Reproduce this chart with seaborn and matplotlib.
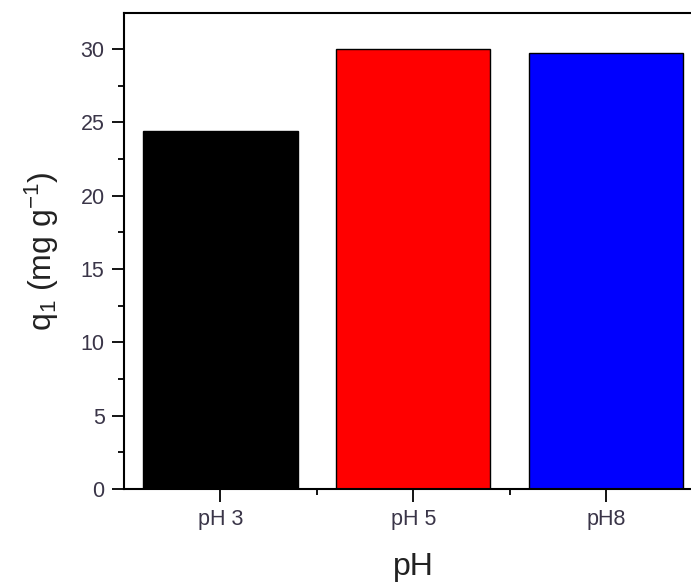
import matplotlib
matplotlib.use("Agg")
import matplotlib.pyplot as plt
import seaborn as sns
import pandas as pd
from matplotlib.ticker import MultipleLocator

# values
categories = ["pH 3", "pH 5", "pH8"]
q1_values = [24.4, 30.0, 29.7]
bar_colors = ["#000000", "#ff0000", "#0000ff"]

df = pd.DataFrame({"ph": categories, "q1": q1_values})

sns.set_style("ticks")
plt.rcParams["font.family"] = ["Liberation Sans", "DejaVu Sans"]
plt.rcParams["mathtext.fontset"] = "custom"
plt.rcParams["mathtext.rm"] = "Liberation Sans"
plt.rcParams["mathtext.it"] = "Liberation Sans"

fig = plt.figure(figsize=(6.91, 5.85), dpi=100)
ax = fig.add_axes([0.1795, 0.164, 0.837, 0.814])

sns.barplot(data=df, x="ph", y="q1", hue="ph", palette=bar_colors, legend=False,
            saturation=1, width=0.8, edgecolor="black", linewidth=1.0, ax=ax)

ax.set_xlim(-0.5, 2.5)
ax.set_ylim(0, 32.45)
ax.yaxis.set_major_locator(MultipleLocator(5))
ax.yaxis.set_minor_locator(MultipleLocator(2.5))
ax.set_xticks([0.5, 1.5], minor=True)

for side in ["left", "bottom", "top", "right"]:
    ax.spines[side].set_linewidth(1.5)
    ax.spines[side].set_color("black")

ax.tick_params(axis="both", which="major", direction="out", length=9, width=1.3,
               labelsize=15.5, labelcolor="#3a3548", color="black", pad=5)
ax.tick_params(axis="both", which="minor", direction="out", length=4, width=1.3, color="black")

ax.set_xlabel("pH", fontsize=23, color="#222222", labelpad=16)
ax.set_ylabel(r"q$_1$ (mg g$^{-1}$)", fontsize=23, color="#222222", labelpad=14)

fig.savefig("out.png", dpi=100)
